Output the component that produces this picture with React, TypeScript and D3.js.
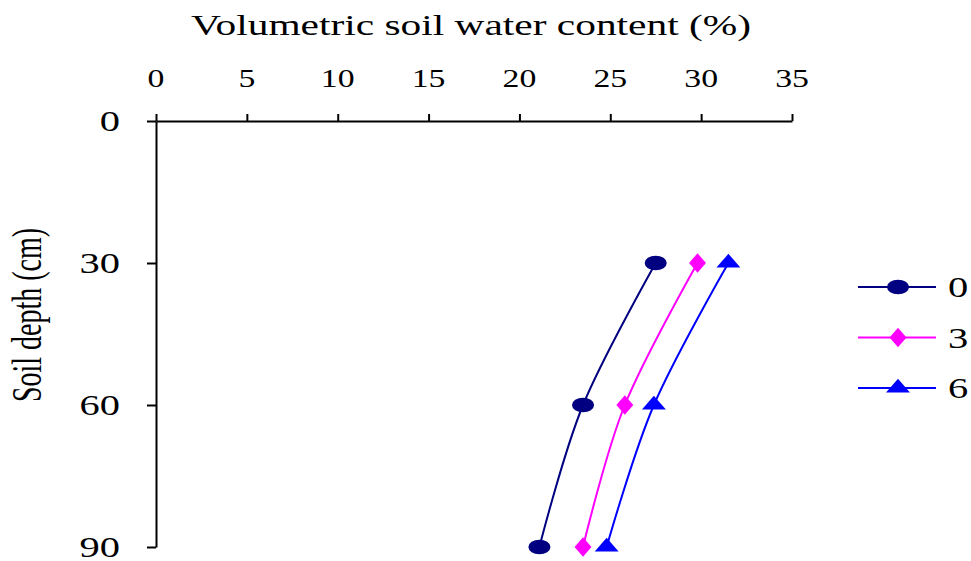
import React, { useEffect, useRef } from 'react';
import * as d3 from 'd3';

// depths (cm) and water content (%) per treatment
const depths = [30, 60, 90];
const seriesNames = ['0', '3', '6'];
const water0 = [27.5, 23.5, 21.1];
const water3 = [29.8, 25.8, 23.5];
const water6 = [31.5, 27.4, 24.8];
const xTicks = [0, 5, 10, 15, 20, 25, 30, 35];
const yTicks = [0, 30, 60, 90];

const colors = ['#000080', '#FF00FF', '#0000FF'];
const symbols = [d3.symbolCircle, d3.symbolDiamond, d3.symbolTriangle];
const STRETCH = 1.35; // the picture is wider than tall, text too

export default function App() {
  const ref = useRef<SVGSVGElement>(null);

  useEffect(() => {
    const svg = d3.select(ref.current);
    svg.selectAll('*').remove();

    const x = d3.scaleLinear().domain([0, 35]).range([156, 792]);
    const y = d3.scaleLinear().domain([0, 90]).range([121, 547]);
    const font = '"Liberation Serif", "Times New Roman", serif';

    // title
    svg.append('text')
      .attr('transform', `translate(471,35) scale(1.38,1)`)
      .attr('text-anchor', 'middle')
      .style('font-family', font)
      .style('font-size', '30px')
      .text('Volumetric soil water content (%)');

    // y axis title
    svg.append('text')
      .attr('transform', `translate(41,315) scale(1.5,1) rotate(-90)`)
      .attr('text-anchor', 'middle')
      .style('font-family', font)
      .style('font-size', '28px')
      .text('Soil depth (cm)');

    // x axis on top
    const gx = svg.append('g').attr('transform', 'translate(0,121)')
      .call(d3.axisTop(x).tickValues(xTicks).tickSize(7).tickSizeOuter(0).tickFormat(() => ''));
    gx.selectAll('path, line').attr('stroke', '#000').attr('stroke-width', 2);

    xTicks.forEach(t => {
      svg.append('text')
        .attr('transform', `translate(${x(t)},87) scale(${STRETCH},1)`)
        .attr('text-anchor', 'middle')
        .style('font-family', font)
        .style('font-size', '25px')
        .text(t);
    });

    // y axis
    const gy = svg.append('g').attr('transform', 'translate(156,0)')
      .call(d3.axisLeft(y).tickValues(yTicks).tickSize(9).tickSizeOuter(0).tickFormat(() => ''));
    gy.selectAll('path, line').attr('stroke', '#000').attr('stroke-width', 2);

    yTicks.forEach(t => {
      svg.append('text')
        .attr('transform', `translate(120,${y(t) + 10}) scale(${STRETCH},1)`)
        .attr('text-anchor', 'end')
        .style('font-family', font)
        .style('font-size', '30px')
        .text(t);
    });

    const all = [water0, water3, water6];
    const line = d3.line<number>()
      .x(d => x(d))
      .y((_, i) => y(depths[i]))
      .curve(d3.curveCatmullRom.alpha(0));

    all.forEach((vals, s) => {
      svg.append('path')
        .attr('d', line(vals))
        .attr('fill', 'none')
        .attr('stroke', colors[s])
        .attr('stroke-width', 2);
      vals.forEach((v, i) => {
        svg.append('path')
          .attr('d', d3.symbol(symbols[s], s === 0 ? 170 : 110)())
          .attr('transform', `translate(${x(v)},${y(depths[i])}) scale(1.5,1)`)
          .attr('fill', colors[s]);
      });
    });

    // legend
    const ly = d3.scalePoint().domain(seriesNames).range([287, 388]);
    seriesNames.forEach((name, s) => {
      const yy = ly(name)!;
      svg.append('line')
        .attr('x1', 858).attr('x2', 936).attr('y1', yy).attr('y2', yy)
        .attr('stroke', colors[s]).attr('stroke-width', 2);
      svg.append('path')
        .attr('d', d3.symbol(symbols[s], s === 0 ? 170 : 110)())
        .attr('transform', `translate(898,${yy}) scale(1.5,1)`)
        .attr('fill', colors[s]);
      svg.append('text')
        .attr('transform', `translate(948,${yy + 10}) scale(${STRETCH},1)`)
        .style('font-family', font)
        .style('font-size', '30px')
        .text(name);
    });
  }, []);

  return (
    <svg ref={ref} width={971} height={561}
      style={{ position: 'absolute', left: 0, top: 0, background: '#fff' }} />
  );
}
